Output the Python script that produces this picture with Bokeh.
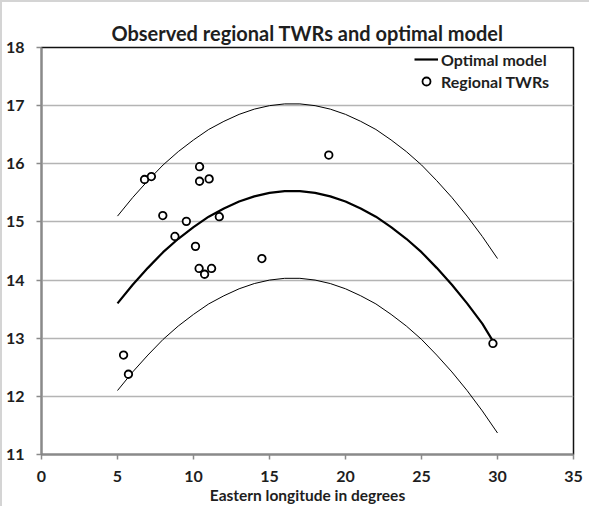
from bokeh.plotting import figure
from bokeh.models import Legend, LegendItem, FixedTicker, Range1d
from bokeh.embed import file_html
from bokeh.resources import INLINE

# Observed regional TWRs
longitude = [5.4, 5.72, 6.78, 7.23, 7.98, 8.78, 9.53, 10.13, 10.4, 10.4,
             10.37, 10.73, 11.03, 11.19, 11.7, 14.5, 18.9, 29.7]
twr = [12.71, 12.38, 15.73, 15.78, 15.11, 14.75, 15.01, 14.58, 15.95, 15.70,
       14.20, 14.10, 15.74, 14.20, 15.09, 14.37, 16.15, 12.91]

# Optimal model curve
model_lon = [5, 6, 7, 8, 9, 10, 11, 12, 13, 14, 15, 16, 17, 18, 19, 20,
             21, 22, 23, 24, 25, 26, 27, 28, 29, 29.7]
model_twr = [13.60, 13.92, 14.21, 14.48, 14.71, 14.91, 15.09, 15.23, 15.35,
             15.44, 15.50, 15.53, 15.53, 15.50, 15.44, 15.35, 15.23, 15.09,
             14.91, 14.71, 14.48, 14.21, 13.92, 13.60, 13.25, 12.95]

# Upper and lower band curves
band_lon = [5, 6, 7, 8, 9, 10, 11, 12, 13, 14, 15, 16, 17, 18, 19, 20,
            21, 22, 23, 24, 25, 26, 27, 28, 29, 30]
upper_twr = [15.10, 15.42, 15.71, 15.98, 16.21, 16.41, 16.59, 16.73, 16.85,
             16.94, 17.00, 17.03, 17.03, 17.00, 16.94, 16.85, 16.73, 16.59,
             16.41, 16.21, 15.98, 15.71, 15.42, 15.10, 14.75, 14.37]
lower_twr = [12.10, 12.42, 12.71, 12.98, 13.21, 13.41, 13.59, 13.73, 13.85,
             13.94, 14.00, 14.03, 14.03, 14.00, 13.94, 13.85, 13.73, 13.59,
             13.41, 13.21, 12.98, 12.71, 12.42, 12.10, 11.75, 11.37]

x_ticks = [0, 5, 10, 15, 20, 25, 30, 35]
y_ticks = [11, 12, 13, 14, 15, 16, 17, 18]

FONT = "Lato"
TXT = "#1e1e1e"

p = figure(frame_width=532, frame_height=407,
           min_border_left=36, min_border_right=16,
           min_border_top=45, min_border_bottom=48,
           x_range=Range1d(0, 35), y_range=Range1d(11, 18),
           output_backend="svg", toolbar_location=None,
           title="Observed regional TWRs and optimal model",
           styles={"border-top": "2px solid #d4d4d4",
                   "border-left": "2px solid #d4d4d4"})

p.title.align = "center"
p.title.text_font = FONT
p.title.text_font_size = "20px"
p.title.text_font_style = "bold"
p.title.text_color = TXT
p.title.standoff = 5

p.background_fill_color = "white"
p.border_fill_color = "white"
p.outline_line_color = "#111111"
p.outline_line_width = 1.5

p.xgrid.grid_line_color = None
p.ygrid.grid_line_color = "#b4b4b4"
p.ygrid.grid_line_width = 1.3

p.xaxis.ticker = FixedTicker(ticks=x_ticks)
p.yaxis.ticker = FixedTicker(ticks=y_ticks)
for ax in (p.xaxis, p.yaxis):
    ax.axis_line_color = "#8a8a8a"
    ax.axis_line_width = 2
    ax.major_tick_line_color = "#8a8a8a"
    ax.major_tick_line_width = 1.5
    ax.major_tick_out = 5
    ax.major_tick_in = 0
    ax.minor_tick_line_color = None
    ax.major_label_text_font = FONT
    ax.major_label_text_font_size = "16px"
    ax.major_label_text_font_style = "bold"
    ax.major_label_text_color = TXT
p.xaxis.major_label_standoff = 11
p.yaxis.major_label_standoff = 12

p.xaxis.axis_label = "Eastern longitude in degrees"
p.xaxis.axis_label_text_font = FONT
p.xaxis.axis_label_text_font_size = "15.5px"
p.xaxis.axis_label_text_font_style = "bold"
p.xaxis.axis_label_text_color = TXT
p.xaxis.axis_label_standoff = 1

up = p.line(band_lon, upper_twr, line_color="black", line_width=1)
lo = p.line(band_lon, lower_twr, line_color="black", line_width=1)
mid = p.line(model_lon, model_twr, line_color="black", line_width=2.2,
             line_join="round")
pts = p.scatter(longitude, twr, size=7.5, marker="circle",
                fill_color="white", line_color="black", line_width=1.8)

legend = Legend(items=[LegendItem(label="Optimal model", renderers=[mid]),
                       LegendItem(label="Regional TWRs", renderers=[pts])],
                location=(373, 363), padding=0, margin=0, spacing=2,
                glyph_width=24, glyph_height=20, label_standoff=3,
                background_fill_alpha=0, border_line_alpha=0,
                label_text_font=FONT, label_text_font_size="16px",
                label_text_font_style="bold", label_text_color=TXT)
p.add_layout(legend, "center")

open("out.html", "w").write(file_html(p, INLINE))
